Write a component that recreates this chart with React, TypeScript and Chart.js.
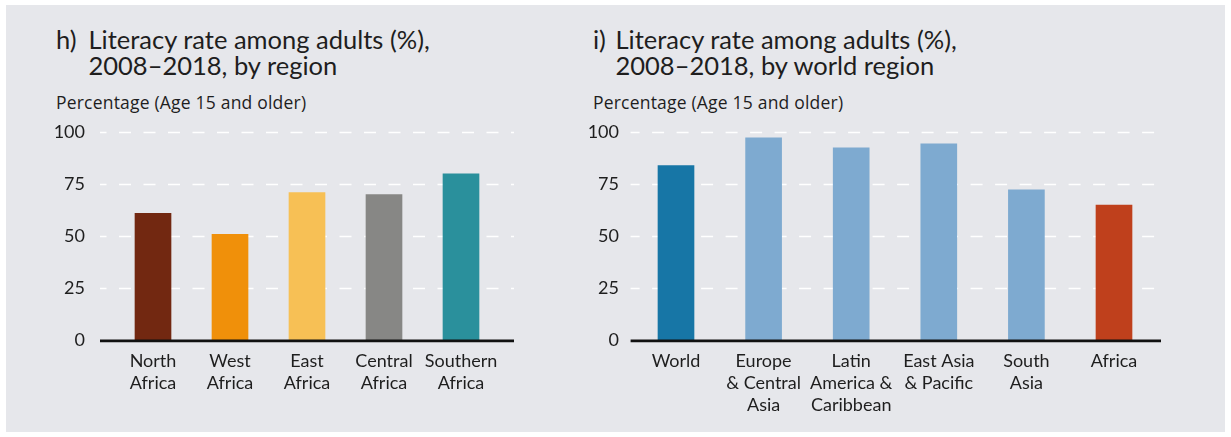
import React, { useEffect, useRef } from "react";
import { Chart, registerables } from "chart.js";

Chart.register(...registerables);

// ---- Data ----
const regionLabels: string[][] = [
  ["North", "Africa"],
  ["West", "Africa"],
  ["East", "Africa"],
  ["Central", "Africa"],
  ["Southern", "Africa"],
];
const regionValues: number[] = [61, 51, 71, 70, 80];
const regionColors: string[] = ["#722811", "#f0900a", "#f7c055", "#878785", "#2a909c"];

const worldLabels: string[][] = [
  ["World"],
  ["Europe", "& Central", "Asia"],
  ["Latin", "America &", "Caribbean"],
  ["East Asia", "& Pacific"],
  ["South", "Asia"],
  ["Africa"],
];
const worldValues: number[] = [84, 97.3, 92.5, 94.4, 72.3, 65];
const worldColors: string[] = ["#1776a6", "#7eaad0", "#7eaad0", "#7eaad0", "#7eaad0", "#bf401c"];

const yMin = 0;
const yMax = 100;
const yStep = 25;

const FONT = "Lato";
const TEXT = "#1e1e1e";
const BG = "#e6e7eb";

const gridPlugin = {
  id: "dashGrid",
  beforeDatasetsDraw(chart: any, _args: any, opts: any) {
    const { ctx, chartArea, scales } = chart;
    const y = scales.y;
    const x0 = chartArea.left - opts.extL;
    const x1 = chartArea.right + opts.extR;
    ctx.save();
    ctx.strokeStyle = "#ffffff";
    ctx.lineWidth = 1.6;
    ctx.setLineDash([12, 12.5]);
    ctx.lineDashOffset = opts.dashOffset;
    for (const t of y.ticks) {
      if (t.value === 0) continue;
      const py = Math.round(y.getPixelForValue(t.value)) + 0.5;
      ctx.beginPath();
      ctx.moveTo(x0, py);
      ctx.lineTo(x1, py);
      ctx.stroke();
    }
    ctx.restore();
  },
  afterDatasetsDraw(chart: any, _args: any, opts: any) {
    const { ctx, chartArea, scales } = chart;
    const y = scales.y;
    const x0 = chartArea.left - opts.extL;
    const x1 = chartArea.right + opts.extR;
    const py = y.getPixelForValue(0) + 0.6;
    ctx.save();
    ctx.strokeStyle = "#111111";
    ctx.lineWidth = 2.6;
    ctx.beginPath();
    ctx.moveTo(x0, py);
    ctx.lineTo(x1, py);
    ctx.stroke();
    ctx.restore();
  },
};

type BarProps = {
  labels: string[][];
  values: number[];
  colors: string[];
  left: number;
  top: number;
  width: number;
  height: number;
  area: { left: number; right: number; top: number; bottom: number };
  yPad: number;
  extL: number;
  extR: number;
  dashOffset: number;
};

function BarChart(p: BarProps) {
  const ref = useRef<HTMLCanvasElement | null>(null);
  useEffect(() => {
    if (!ref.current) return;
    const chart = new Chart(ref.current, {
      type: "bar",
      data: {
        labels: p.labels,
        datasets: [
          {
            data: p.values,
            backgroundColor: p.colors,
            borderWidth: 0,
            barThickness: 36,
          },
        ],
      },
      plugins: [gridPlugin],
      options: {
        animation: false,
        responsive: false,
        devicePixelRatio: 1,
        layout: {
          padding: { left: 0, top: p.area.top, right: p.width - p.area.right, bottom: 0 },
        },
        plugins: {
          legend: { display: false },
          tooltip: { enabled: false },
          title: { display: false },
          dashGrid: { extL: p.extL, extR: p.extR, dashOffset: p.dashOffset },
        } as any,
        scales: {
          x: {
            type: "category",
            offset: true,
            grid: { display: false, drawTicks: false },
            border: { display: false },
            ticks: {
              autoSkip: false,
              maxRotation: 0,
              minRotation: 0,
              padding: 10.5,
              color: TEXT,
              font: { family: FONT, size: 18, lineHeight: 1.2 },
            },
            afterFit: (s: any) => {
              s.height = p.height - p.area.bottom;
            },
          },
          y: {
            type: "linear",
            min: yMin,
            max: yMax,
            grid: { display: false, drawTicks: false },
            border: { display: false },
            ticks: {
              stepSize: yStep,
              padding: p.yPad,
              color: TEXT,
              font: { family: FONT, size: 18 },
            },
            afterFit: (s: any) => {
              s.width = p.area.left;
            },
          },
        },
      } as any,
    });
    return () => chart.destroy();
  }, []);
  return (
    <canvas
      ref={ref}
      width={p.width}
      height={p.height}
      style={{ position: "absolute", left: p.left, top: p.top, width: p.width, height: p.height }}
    />
  );
}

const titleStyle: React.CSSProperties = {
  position: "absolute",
  fontFamily: FONT,
  fontSize: 25.5,
  lineHeight: "26px",
  color: TEXT,
  whiteSpace: "nowrap",
};
const subStyle: React.CSSProperties = {
  position: "absolute",
  fontFamily: "'Open Sans'",
  fontSize: 17.5,
  letterSpacing: 0.2,
  lineHeight: "20px",
  color: TEXT,
  whiteSpace: "nowrap",
};

const CH_TOP = 80;
const CH_H = 350;
const AREA_TOP = 132.3 - CH_TOP;
const AREA_BOTTOM = 340.3 - CH_TOP;

export default function App() {
  return (
    <div
      style={{
        position: "fixed",
        left: 0,
        top: 0,
        width: 1231,
        height: 437,
        background: "#ffffff",
        overflow: "hidden",
      }}
    >
      <div style={{ position: "absolute", left: 6, top: 5, width: 1219, height: 427, background: BG }} />

      {/* Left panel titles */}
      <div style={{ ...titleStyle, left: 56, top: 26.1 }}>h)</div>
      <div style={{ ...titleStyle, left: 88.5, top: 26.1 }}>
        Literacy rate among adults (%),
        <br />
        2008–2018, by region
      </div>
      <div style={{ ...subStyle, left: 56, top: 92.2 }}>Percentage (Age 15 and older)</div>

      {/* Right panel titles */}
      <div style={{ ...titleStyle, left: 593, top: 26.1 }}>i)</div>
      <div style={{ ...titleStyle, left: 615.5, top: 26.1 }}>
        Literacy rate among adults (%),
        <br />
        2008–2018, by world region
      </div>
      <div style={{ ...subStyle, left: 593, top: 92.2 }}>Percentage (Age 15 and older)</div>

      <BarChart
        labels={regionLabels}
        values={regionValues}
        colors={regionColors}
        left={0}
        top={CH_TOP}
        width={560}
        height={CH_H}
        area={{ left: 114.5, right: 499.5, top: AREA_TOP, bottom: AREA_BOTTOM }}
        yPad={29.5}
        extL={14.5}
        extR={14.5}
        dashOffset={5.5}
      />
      <BarChart
        labels={worldLabels}
        values={worldValues}
        colors={worldColors}
        left={560}
        top={CH_TOP}
        width={660}
        height={CH_H}
        area={{ left: 72.2, right: 597.8, top: AREA_TOP, bottom: AREA_BOTTOM }}
        yPad={13.2}
        extL={1.6}
        extR={3.2}
        dashOffset={3}
      />
    </div>
  );
}
